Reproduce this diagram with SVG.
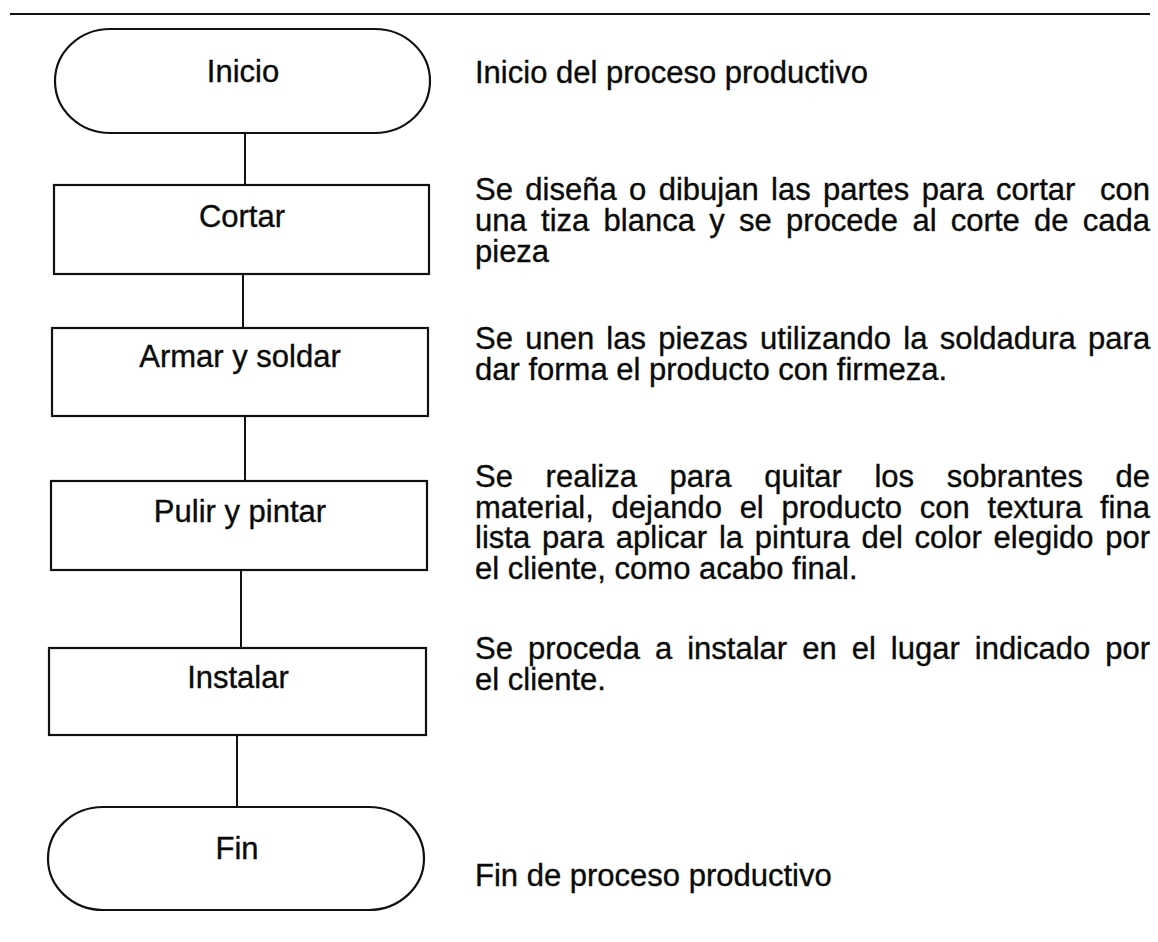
<svg xmlns="http://www.w3.org/2000/svg" width="1158" height="942" viewBox="0 0 1158 942">
<style>
.shape{fill:#ffffff;stroke:#111111;stroke-width:2.2}
.conn{stroke:#111111;stroke-width:2;fill:none}
.lbl{font-family:"Liberation Sans",Arial,sans-serif;font-size:31px;fill:#0a0a0a;stroke:#0a0a0a;stroke-width:0.35;text-anchor:middle}
.dsc{font-family:"Liberation Sans",Arial,sans-serif;font-size:31px;fill:#0a0a0a;stroke:#0a0a0a;stroke-width:0.35}
</style>
<rect x="0" y="0" width="1158" height="942" fill="#ffffff"/>
<line x1="10" y1="14" x2="1150" y2="14" stroke="#111111" stroke-width="2.2"/>
<g id="connectors">
<line class="conn" x1="245" y1="133" x2="245" y2="185"/>
<line class="conn" x1="243" y1="274" x2="243" y2="328"/>
<line class="conn" x1="245" y1="416" x2="245" y2="481"/>
<line class="conn" x1="241" y1="570" x2="241" y2="648"/>
<line class="conn" x1="237" y1="735" x2="237" y2="807"/>
</g>
<g id="inicio">
<rect class="shape" x="55" y="29" width="375" height="104" rx="55" ry="52"/>
<text class="lbl" x="243" y="82">Inicio</text>
</g>
<g id="cortar">
<rect class="shape" x="54" y="185" width="375" height="89"/>
<text class="lbl" x="242" y="227">Cortar</text>
</g>
<g id="armar">
<rect class="shape" x="52" y="328" width="376" height="88"/>
<text class="lbl" x="240" y="367">Armar y soldar</text>
</g>
<g id="pulir">
<rect class="shape" x="51" y="481" width="376" height="89"/>
<text class="lbl" x="240" y="522">Pulir y pintar</text>
</g>
<g id="instalar">
<rect class="shape" x="49" y="648" width="377" height="87"/>
<text class="lbl" x="238" y="688">Instalar</text>
</g>
<g id="fin">
<rect class="shape" x="48" y="807" width="376" height="103" rx="55" ry="51.5"/>
<text class="lbl" x="237" y="859">Fin</text>
</g>
<g id="desc-inicio">
<text class="dsc" x="475" y="83">Inicio del proceso productivo</text>
</g>
<g id="desc-cortar">
<text class="dsc" x="475" y="200" xml:space="preserve" word-spacing="3.78">Se diseña o dibujan las partes para cortar  con</text>
<text class="dsc" x="475" y="231" word-spacing="5.69">una tiza blanca y se procede al corte de cada</text>
<text class="dsc" x="475" y="262">pieza</text>
</g>
<g id="desc-armar">
<text class="dsc" x="475" y="349" word-spacing="3.63">Se unen las piezas utilizando la soldadura para</text>
<text class="dsc" x="475" y="380">dar forma el producto con firmeza.</text>
</g>
<g id="desc-pulir">
<text class="dsc" x="475" y="487" word-spacing="24.05">Se realiza para quitar los sobrantes de</text>
<text class="dsc" x="475" y="518" word-spacing="9.1">material, dejando el producto con textura fina</text>
<text class="dsc" x="475" y="548" word-spacing="3.19">lista para aplicar la pintura del color elegido por</text>
<text class="dsc" x="475" y="579">el cliente, como acabo final.</text>
</g>
<g id="desc-instalar">
<text class="dsc" x="475" y="659" word-spacing="6.4">Se proceda a instalar en el lugar indicado por</text>
<text class="dsc" x="475" y="690">el cliente.</text>
</g>
<g id="desc-fin">
<text class="dsc" x="475" y="886">Fin de proceso productivo</text>
</g>
</svg>
